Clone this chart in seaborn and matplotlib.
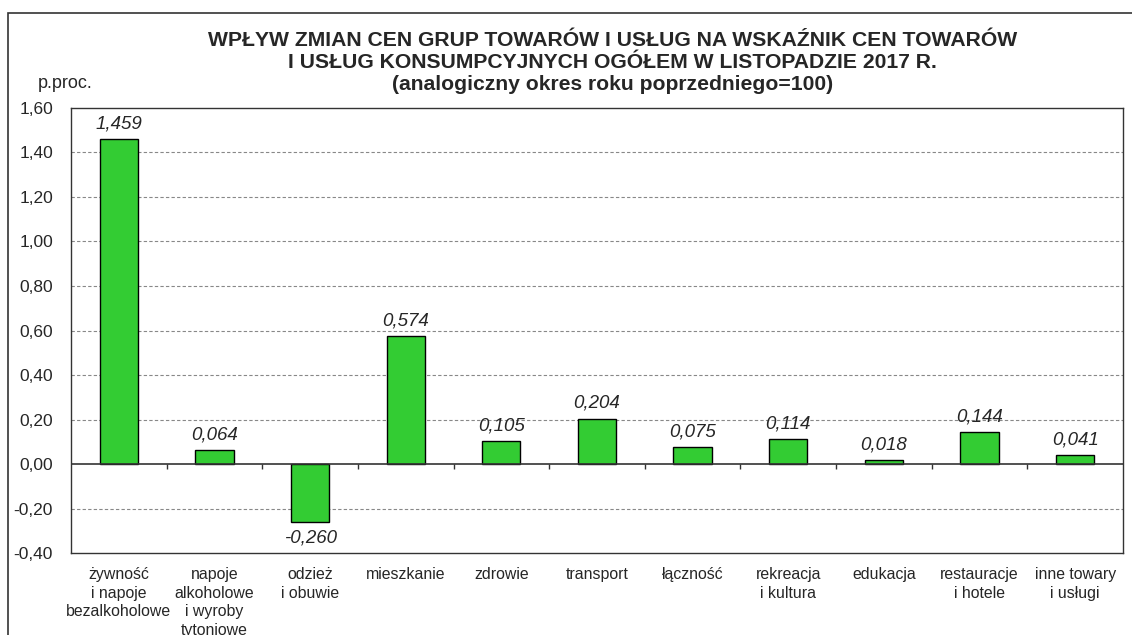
import matplotlib
matplotlib.use("Agg")
import matplotlib.pyplot as plt
import seaborn as sns
import pandas as pd
from matplotlib.patches import Rectangle

categories = [
    "żywność\ni napoje\nbezalkoholowe",
    "napoje\nalkoholowe\ni wyroby\ntytoniowe",
    "odzież\ni obuwie",
    "mieszkanie",
    "zdrowie",
    "transport",
    "łączność",
    "rekreacja\ni kultura",
    "edukacja",
    "restauracje\ni hotele",
    "inne towary\ni usługi",
]
values = [1.459, 0.064, -0.260, 0.574, 0.105, 0.204, 0.075, 0.114, 0.018, 0.144, 0.041]
value_labels = ["1,459", "0,064", "-0,260", "0,574", "0,105", "0,204",
                "0,075", "0,114", "0,018", "0,144", "0,041"]
y_ticks = [-0.4, -0.2, 0.0, 0.2, 0.4, 0.6, 0.8, 1.0, 1.2, 1.4, 1.6]

title = ("WPŁYW ZMIAN CEN GRUP TOWARÓW I USŁUG NA WSKAŹNIK CEN TOWARÓW\n"
         "I USŁUG KONSUMPCYJNYCH OGÓŁEM W LISTOPADZIE 2017 R.\n"
         "(analogiczny okres roku poprzedniego=100)")

df = pd.DataFrame({"kategoria": categories, "wartosc": values})

sns.set_style("white")
plt.rcParams["font.family"] = ["Liberation Sans", "DejaVu Sans"]

fig = plt.figure(figsize=(11.32, 6.35), dpi=100)
ax = fig.add_axes([0.0627, 0.129, 0.9293, 0.701])

sns.barplot(
    data=df,
    x="kategoria",
    y="wartosc",
    color="#33CC33",
    saturation=1,
    width=0.4,
    edgecolor="black",
    linewidth=1,
    ax=ax,
    zorder=3,
)

ax.set_ylim(-0.4, 1.6)
ax.set_xlim(-0.5, len(categories) - 0.5)
ax.set_yticks(y_ticks)
ax.set_yticklabels([f"{t:.2f}".replace(".", ",") for t in y_ticks], fontsize=12.5)
ax.tick_params(axis="y", direction="out", length=5, width=1, color="#333333", pad=8)
ax.tick_params(axis="x", length=0, labelsize=11.4, pad=10)
for lab in ax.get_xticklabels():
    lab.set_linespacing(1.3)
ax.set_xlabel("")
ax.set_ylabel("")

for t in y_ticks:
    if t not in (0.0, -0.4, 1.6):
        ax.axhline(t, color="#888888", linestyle=(0, (3, 2)), linewidth=0.8, zorder=1)
ax.axhline(0, color="#333333", linewidth=1.2, zorder=4)

# kreski między kategoriami na linii zera
bounds = [i + 0.5 for i in range(len(categories) - 1)]
ax.vlines(bounds, 0, -0.022, color="#333333", linewidth=1, zorder=4)

for s in ax.spines.values():
    s.set_visible(True)
    s.set_color("#333333")
    s.set_linewidth(1)

for i, (v, lab) in enumerate(zip(values, value_labels)):
    if v >= 0:
        ax.text(i, v + 0.03, lab, ha="center", va="bottom",
                fontsize=13.5, style="italic")
    else:
        ax.text(i, v - 0.035, lab, ha="center", va="top",
                fontsize=13.5, style="italic")

fig.text(0.541, 0.951, title, ha="center", va="top", fontsize=15.2,
         fontweight="bold", linespacing=1.2)
fig.text(0.0574, 0.869, "p.proc.", ha="center", va="center", fontsize=13)

fig.patches.append(Rectangle((0.0071, -0.05), 1.1, 0.05 + 0.9795, fill=False,
                             edgecolor="#333333", linewidth=1.2,
                             transform=fig.transFigure, figure=fig))

fig.savefig("out.png", dpi=100)
